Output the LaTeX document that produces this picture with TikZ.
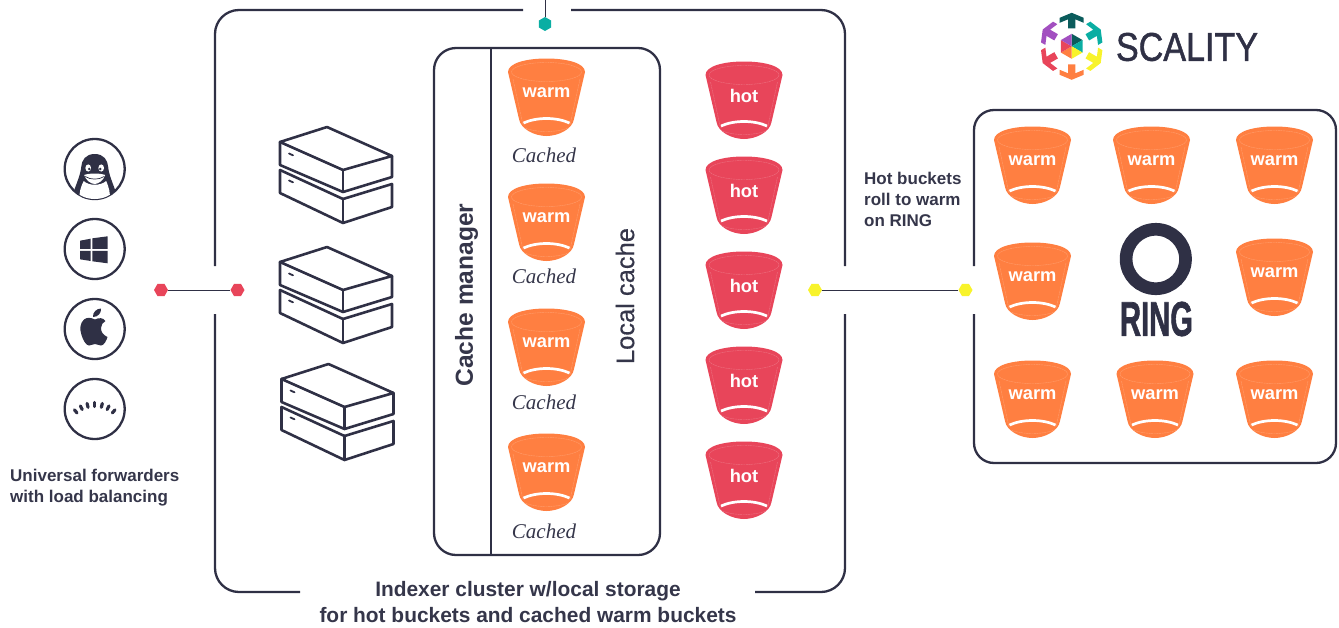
\documentclass[tikz,border=0pt]{standalone}
\usepackage{fontspec}
\usepackage{graphicx}
\setmainfont{Liberation Sans}
\newfontfamily\cachedfont{Liberation Serif}
\newfontfamily\medfont[FakeBold=0.45]{Liberation Sans}
\newfontfamily\logofont[FakeBold=1.3]{Liberation Sans}
\newfontfamily\heavyfont[FakeBold=1.6]{Liberation Sans Bold}
\usetikzlibrary{shapes.geometric}
\definecolor{ink}{HTML}{2F3045}
\definecolor{txt}{HTML}{35364A}
\definecolor{warmc}{HTML}{FF7F41}
\definecolor{hotc}{HTML}{E8455A}
\definecolor{tealc}{HTML}{0AAEA3}
\definecolor{darkteal}{HTML}{0B5C5C}
\definecolor{yellowc}{HTML}{F8F32B}
\definecolor{purplec}{HTML}{A24FC0}
\tikzset{
  frameline/.style={draw=ink,line width=2.3pt,rounded corners=24pt},
  hexnode/.style={regular polygon,regular polygon sides=6,fill=#1,draw=none,inner sep=0pt,minimum size=14pt},
  link/.style={draw=ink,line width=1pt},
  icon/.style={circle,draw=ink,line width=2.3pt,minimum size=60pt,inner sep=0pt},
  lab/.style={text=txt,font=\bfseries\fontsize{17}{21}\selectfont,align=left,anchor=west,inner sep=0pt},
  big/.style={text=txt,font=\bfseries\fontsize{20.9}{26}\selectfont,align=center,inner sep=0pt},
  cachedlab/.style={text=txt,font=\cachedfont\itshape\fontsize{21}{21}\selectfont,inner sep=0pt},
  pics/bucket/.style n args={2}{code={
    \fill[#1] (-38.5,13) .. controls (-38.5,4) and (-20,-0.5) .. (0,-0.5) .. controls (20,-0.5) and (38.5,4) .. (38.5,13)
      -- (27.5,60) .. controls (26,70) and (12,77) .. (0,77) .. controls (-12,77) and (-26,70) .. (-27.5,60) -- cycle;
    \draw[white,opacity=.22,line width=.45pt,dash pattern=on 2pt off .6pt] (0,13) ellipse [x radius=35,y radius=9.5];
    \draw[white,opacity=.22,line width=.45pt,dash pattern=on 2pt off .6pt] (-33.5,20) -- (-23.5,66) (33.5,20) -- (23.5,66);
    \draw[white,opacity=.22,line width=.45pt,dash pattern=on 2pt off .6pt] (-24,68) .. controls (-12,74) and (12,74) .. (24,68);
    \draw[white,line width=2.7pt] (-23,64) .. controls (-10,58) and (10,58) .. (23,64);
    \node[text=white,font=\bfseries\fontsize{18.3}{19}\selectfont,inner sep=0pt] (-label) at (0,33.8) {#2};
  }},
  pics/serverstack/.style={code={
    \begin{scope}[draw=ink,line width=2.6pt,line join=round,line cap=round]
      \draw (0,15) -- (47,0) -- (112,29) -- (63,43) -- cycle;
      \draw (0,15) -- (0,38) -- (63,65) -- (112,50) -- (112,29);
      \draw (63,43) -- (63,65);
      \draw (0,43) -- (0,66) -- (63,96) -- (112,80) -- (112,57);
      \draw (63,72) -- (63,96);
      \draw (63,72) -- (112,57);
      \draw (0,43) -- (63,72);
      \draw[line width=1.8pt] (9,26.5) -- (13,28.3);
      \draw[line width=1.8pt] (9,53.5) -- (13,55.3);
    \end{scope}
  }},
  pics/arrowmark/.style={code={
    \fill[#1] (0,-33.5) -- (12,-28.5) -- (12,-23.5) -- (3.6,-27) -- (3.6,-18) -- (-3.6,-18) -- (-3.6,-27) -- (-12,-23.5) -- (-12,-28.5) -- cycle;
  }},
}
\begin{document}
\begin{tikzpicture}[x=1pt,y=-1pt]
\useasboundingbox (0,0) rectangle (1339,627);
% main frame
\draw[frameline] (523,10) -- (215,10) -- (215,266);
\draw[frameline] (215,314) -- (215,592) -- (300,592);
\draw[frameline] (755,592) -- (845,592) -- (845,314);
\draw[frameline] (845,266) -- (845,10) -- (571,10);
% cache box
\draw[frameline,rounded corners=22pt] (434,48) rectangle (660,555);
\draw[draw=ink,line width=2.3pt] (491,48) -- (491,555);
% ring box
\draw[frameline,rounded corners=20pt] (974,266) -- (974,110) -- (1336,110) -- (1336,463) -- (974,463) -- (974,314);
% connectors
\node[hexnode=hotc] (h1) at (161,290) {};
\node[hexnode=hotc] (h2) at (237.5,290) {};
\node[hexnode=yellowc] (y1) at (815,290) {};
\node[hexnode=yellowc] (y2) at (965.5,290) {};
\node[hexnode=tealc,shape border rotate=30] (t1) at (545,24) {};
\coordinate (t0) at (545,0);
\draw[link] (h1) -- (h2);
\draw[link] (y1) -- (y2);
\draw[link] (t1) -- (t0);
% OS icons
\node[icon] (linux) at (94.7,169) {};
\node[icon] (win) at (94.7,249) {};
\node[icon] (apple) at (94.7,329) {};
\node[icon] (splunk) at (94.7,409) {};
\begin{scope}[shift={(94.7,169)}]
  \clip (0,0) circle (30);
  \fill[ink] (0,-15) .. controls (-9,-15) and (-13,-9) .. (-13.5,-2) .. controls (-14,5) and (-18,14) .. (-23,28) -- (23,28) .. controls (18,14) and (14,5) .. (13.5,-2) .. controls (13,-9) and (9,-15) .. (0,-15) -- cycle;
  \fill[white] (-11,12) .. controls (-14,18) and (-16,24) .. (-15,32) -- (15,32) .. controls (16,24) and (14,18) .. (11.5,12) .. controls (6,17) and (-6,17) .. (-11,12) -- cycle;
  \fill[white] (-6.5,-1) ellipse [x radius=2.8,y radius=3.6];
  \fill[white] (6.5,-1) ellipse [x radius=2.8,y radius=3.6];
  \fill[ink] (-5.5,0) circle (1.4);
  \fill[ink] (5.5,0) circle (1.4);
  \fill[white] (-10.5,6) .. controls (-5,4) and (5,4) .. (10.5,6) .. controls (9,11) and (4,15) .. (0,15) .. controls (-4,15) and (-9,11) .. (-10.5,6) -- cycle;
  \draw[ink,line width=.7pt] (-9.5,7.5) .. controls (-4,11) and (4,11) .. (9.5,7.5);
\end{scope}
\begin{scope}[shift={(94.7,249)}]
  \fill[ink] (-14.7,-8.3) -- (-4,-10.3) -- (-4,-.2) -- (-14.7,-.2) -- cycle;
  \fill[ink] (-2.3,-10.7) -- (13,-12.7) -- (13,-.2) -- (-2.3,-.2) -- cycle;
  \fill[ink] (-14.7,1.8) -- (-4,1.8) -- (-4,12) -- (-14.7,10.3) -- cycle;
  \fill[ink] (-2.3,1.8) -- (13,1.8) -- (13,14.3) -- (-2.3,12.3) -- cycle;
\end{scope}
\begin{scope}[shift={(95,329)}]
  \fill[ink] (0,-9.5) .. controls (-4,-11.5) and (-8,-12) .. (-11,-9.5) .. controls (-15,-6) and (-15.5,0) .. (-13.5,6) .. controls (-12,11) and (-9,16.5) .. (-6,16.5) .. controls (-3.5,16.5) and (-2.5,15) .. (0,15) .. controls (2.5,15) and (3.5,16.5) .. (6,16.5) .. controls (9,16.5) and (11.5,11.5) .. (12.5,8) .. controls (8,6) and (6,3) .. (6,-1) .. controls (6,-4) and (8,-7) .. (10.5,-8) .. controls (8,-11.5) and (4,-11.5) .. (0,-9.5) -- cycle;
  \fill[ink] (-2,-12) .. controls (-2.5,-16.5) and (1.5,-20.5) .. (6,-20.5) .. controls (6.5,-16) and (3,-12) .. (-2,-12) -- cycle;
\end{scope}
\begin{scope}[shift={(94.7,434)}]
  \foreach \a in {-40,-27,-14,0,14,27,40}
    \draw[ink,line width=3.2pt,line cap=round] (270+\a:27.5) -- (270+\a:31.5);
\end{scope}
% servers
\pic at (280,127) {serverstack};
\pic at (280,247) {serverstack};
\pic at (281.5,364) {serverstack};
% buckets
\pic (c1) at (546.5,59) {bucket={warmc}{warm}};
\pic (c2) at (546.5,184) {bucket={warmc}{warm}};
\pic (c3) at (546.5,309) {bucket={warmc}{warm}};
\pic (c4) at (546.5,434) {bucket={warmc}{warm}};
\node[cachedlab] (cl1) at (544,155) {Cached};
\node[cachedlab] (cl2) at (544,276) {Cached};
\node[cachedlab] (cl3) at (544,402) {Cached};
\node[cachedlab] (cl4) at (544,531) {Cached};
\pic (b1) at (744,62) {bucket={hotc}{hot}};
\pic (b2) at (744,157) {bucket={hotc}{hot}};
\pic (b3) at (744,252) {bucket={hotc}{hot}};
\pic (b4) at (744,347) {bucket={hotc}{hot}};
\pic (b5) at (744,442) {bucket={hotc}{hot}};
\pic (r1) at (1032.5,127) {bucket={warmc}{warm}};
\pic (r2) at (1151.5,127) {bucket={warmc}{warm}};
\pic (r3) at (1274.5,127) {bucket={warmc}{warm}};
\pic (r4) at (1032.5,243) {bucket={warmc}{warm}};
\pic (r5) at (1274.5,239) {bucket={warmc}{warm}};
\pic (r6) at (1032.5,361) {bucket={warmc}{warm}};
\pic (r7) at (1155,361) {bucket={warmc}{warm}};
\pic (r8) at (1274.5,361) {bucket={warmc}{warm}};
% ring logo
\draw[ink,line width=12.7pt] (1155.8,259) circle (29.7);
\node[inner sep=0pt,text=ink] (ringword) at (1156.5,319) {\resizebox{73pt}{34pt}{\heavyfont RING}};
% scality logo
\begin{scope}[shift={(1071.7,46.3)}]
  \pic[rotate=0] {arrowmark=darkteal};
  \pic[rotate=-60] {arrowmark=tealc};
  \pic[rotate=-120] {arrowmark=yellowc};
  \pic[rotate=-180] {arrowmark=warmc};
  \pic[rotate=-240] {arrowmark=hotc};
  \pic[rotate=-300] {arrowmark=purplec};
  \fill[darkteal] (0,0) -- (0,-12.5) -- (10.8,-6.25) -- cycle;
  \fill[tealc] (0,0) -- (10.8,-6.25) -- (10.8,6.25) -- cycle;
  \fill[yellowc] (0,0) -- (10.8,6.25) -- (0,12.5) -- cycle;
  \fill[warmc] (0,0) -- (0,12.5) -- (-10.8,6.25) -- cycle;
  \fill[hotc] (0,0) -- (-10.8,6.25) -- (-10.8,-6.25) -- cycle;
  \fill[purplec] (0,0) -- (-10.8,-6.25) -- (0,-12.5) -- cycle;
\end{scope}
\node[inner sep=0pt,text=ink] (scalityword) at (1187,47) {\resizebox{142pt}{28pt}{\logofont SCALITY}};
% labels
\node[lab] (uf) at (10,487.5) {Universal forwarders\\with load balancing};
\node[lab] (hb) at (864,199) {Hot buckets\\roll to warm\\on RING};
\node[big] (ix) at (528,602) {Indexer cluster w/local storage\\for hot buckets and cached warm buckets};
\node[text=txt,font=\bfseries\fontsize{24.6}{25}\selectfont,rotate=90,inner sep=0pt] (cm) at (466.5,295) {Cache manager};
\node[text=txt,font=\medfont\fontsize{25.5}{26}\selectfont,rotate=90,inner sep=0pt] (lc) at (625,296) {Local cache};
\end{tikzpicture}
\end{document}
